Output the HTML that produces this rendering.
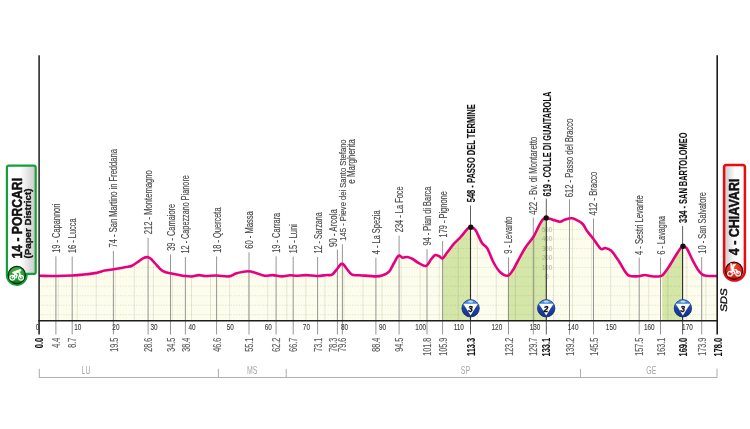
<!DOCTYPE html>
<html lang="it">
<head>
<meta charset="utf-8">
<title>Porcari - Chiavari</title>
<style>
html,body{margin:0;padding:0;background:#ffffff;}
body{width:750px;height:429px;overflow:hidden;}
svg{display:block;}
</style>
</head>
<body>
<svg width="750" height="429" viewBox="0 0 750 429" font-family='"Liberation Sans", "DejaVu Sans", sans-serif'>
<defs>
<linearGradient id="gStart" x1="0" y1="0" x2="1" y2="0"><stop offset="0" stop-color="#ffffff"/><stop offset="0.45" stop-color="#ffffff"/><stop offset="1" stop-color="#c9c9c9"/></linearGradient>
<linearGradient id="gEnd" x1="0" y1="0" x2="1" y2="0"><stop offset="0" stop-color="#c9c9c9"/><stop offset="0.55" stop-color="#ffffff"/><stop offset="1" stop-color="#ffffff"/></linearGradient>
<radialGradient id="gGreen" cx="0.5" cy="0.3" r="0.75"><stop offset="0" stop-color="#4db848"/><stop offset="0.6" stop-color="#1f9a2e"/><stop offset="1" stop-color="#0b6e1c"/></radialGradient>
<radialGradient id="gRed" cx="0.5" cy="0.3" r="0.75"><stop offset="0" stop-color="#f04a23"/><stop offset="0.6" stop-color="#e2231a"/><stop offset="1" stop-color="#b50f10"/></radialGradient>
<linearGradient id="gBlue" x1="0" y1="0" x2="0" y2="1"><stop offset="0" stop-color="#5aa3e6"/><stop offset="0.28" stop-color="#3577cf"/><stop offset="0.45" stop-color="#1c46a6"/><stop offset="1" stop-color="#142f8c"/></linearGradient>
<clipPath id="fillClip"><path d="M39.10,275.70 C44.73,275.80 50.45,276.03 56.00,276.00 C61.55,275.97 67.85,275.73 72.40,275.50 C76.95,275.27 79.25,275.03 83.30,274.60 C87.35,274.17 93.13,273.57 96.70,272.90 C100.27,272.23 101.88,271.20 104.70,270.60 C107.52,270.00 111.05,269.70 113.60,269.30 C116.15,268.90 117.93,268.58 120.00,268.20 C122.07,267.82 124.00,267.42 126.00,267.00 C128.00,266.58 129.88,266.65 132.00,265.70 C134.12,264.75 136.87,262.53 138.70,261.30 C140.53,260.07 141.57,259.00 143.00,258.30 C144.43,257.60 146.05,257.07 147.30,257.10 C148.55,257.13 149.50,257.80 150.50,258.50 C151.50,259.20 152.22,260.13 153.30,261.30 C154.38,262.47 155.67,264.05 157.00,265.50 C158.33,266.95 159.97,268.92 161.30,270.00 C162.63,271.08 163.48,271.45 165.00,272.00 C166.52,272.55 168.23,272.83 170.40,273.30 C172.57,273.77 175.52,274.35 178.00,274.80 C180.48,275.25 182.97,275.73 185.30,276.00 C187.63,276.27 189.77,276.55 192.00,276.40 C194.23,276.25 196.48,275.17 198.70,275.10 C200.92,275.03 202.30,275.93 205.30,276.00 C208.30,276.07 212.80,275.43 216.70,275.50 C220.60,275.57 225.37,276.77 228.70,276.40 C232.03,276.03 233.48,274.15 236.70,273.30 C239.92,272.45 244.67,271.30 248.00,271.30 C251.33,271.30 253.92,272.57 256.70,273.30 C259.48,274.03 262.03,275.40 264.70,275.70 C267.37,276.00 269.82,274.98 272.70,275.10 C275.58,275.22 279.12,276.37 282.00,276.40 C284.88,276.43 287.55,275.42 290.00,275.30 C292.45,275.18 294.03,275.73 296.70,275.70 C299.37,275.67 302.57,275.05 306.00,275.10 C309.43,275.15 313.85,276.02 317.30,276.00 C320.75,275.98 324.25,275.22 326.70,275.00 C329.15,274.78 330.23,275.75 332.00,274.70 C333.77,273.65 335.97,270.32 337.30,268.70 C338.63,267.08 339.22,265.80 340.00,265.00 C340.78,264.20 341.33,263.90 342.00,263.90 C342.67,263.90 343.22,264.20 344.00,265.00 C344.78,265.80 345.37,267.08 346.70,268.70 C348.03,270.32 349.78,273.60 352.00,274.70 C354.22,275.80 356.00,275.02 360.00,275.30 C364.00,275.58 372.22,276.40 376.00,276.40 C379.78,276.40 380.48,276.15 382.70,275.30 C384.92,274.45 387.42,273.35 389.30,271.30 C391.18,269.25 392.43,265.60 394.00,263.00 C395.57,260.40 397.25,256.58 398.70,255.70 C400.15,254.82 401.27,257.48 402.70,257.70 C404.13,257.92 405.63,256.78 407.30,257.00 C408.97,257.22 410.80,258.00 412.70,259.00 C414.60,260.00 416.48,261.85 418.70,263.00 C420.92,264.15 423.90,266.57 426.00,265.90 C428.10,265.23 429.75,260.82 431.30,259.00 C432.85,257.18 433.97,255.45 435.30,255.00 C436.63,254.55 438.07,255.75 439.30,256.30 C440.53,256.85 441.37,258.97 442.70,258.30 C444.03,257.63 445.42,254.73 447.30,252.30 C449.18,249.87 451.77,246.25 454.00,243.70 C456.23,241.15 458.48,239.45 460.70,237.00 C462.92,234.55 465.68,230.62 467.30,229.00 C468.92,227.38 469.37,227.87 470.40,227.30 C472.03,228.10 473.37,227.08 475.30,229.70 C477.23,232.32 480.00,239.90 482.00,243.00 C484.00,246.10 485.42,245.13 487.30,248.30 C489.18,251.47 491.18,258.05 493.30,262.00 C495.42,265.95 497.60,269.72 500.00,272.00 C502.40,274.28 505.53,276.03 507.70,275.70 C509.87,275.37 511.40,272.28 513.00,270.00 C514.60,267.72 515.25,265.72 517.30,262.00 C519.35,258.28 522.63,251.87 525.30,247.70 C527.97,243.53 531.07,240.57 533.30,237.00 C535.53,233.43 537.13,229.18 538.70,226.30 C540.27,223.42 541.48,221.10 542.70,219.70 C543.92,218.30 544.90,218.50 546.00,217.90 C547.57,218.27 549.25,218.60 550.70,219.00 C552.15,219.40 553.15,219.85 554.70,220.30 C556.25,220.75 558.23,221.85 560.00,221.70 C561.77,221.55 563.30,219.97 565.30,219.40 C567.30,218.83 570.00,218.15 572.00,218.30 C574.00,218.45 575.52,219.35 577.30,220.30 C579.08,221.25 581.03,222.17 582.70,224.00 C584.37,225.83 585.53,228.85 587.30,231.30 C589.07,233.75 591.07,235.80 593.30,238.70 C595.53,241.60 598.70,247.15 600.70,248.70 C602.70,250.25 603.53,247.67 605.30,248.00 C607.07,248.33 609.40,249.03 611.30,250.70 C613.20,252.37 615.37,256.17 616.70,258.00 C618.03,259.83 617.97,259.53 619.30,261.70 C620.63,263.87 623.03,268.67 624.70,271.00 C626.37,273.33 626.97,274.82 629.30,275.70 C631.63,276.58 636.13,276.42 638.70,276.30 C641.27,276.18 642.60,275.00 644.70,275.00 C646.80,275.00 648.75,276.08 651.30,276.30 C653.85,276.52 658.00,276.63 660.00,276.30 C662.00,275.97 661.85,275.85 663.30,274.30 C664.75,272.75 666.70,270.00 668.70,267.00 C670.70,264.00 673.42,259.30 675.30,256.30 C677.18,253.30 678.77,250.67 680.00,249.00 C681.23,247.33 681.80,247.20 682.70,246.30 C684.03,246.97 685.03,245.97 686.70,248.30 C688.37,250.63 690.82,256.73 692.70,260.30 C694.58,263.87 696.45,267.37 698.00,269.70 C699.55,272.03 700.67,273.30 702.00,274.30 C703.33,275.30 703.45,275.42 706.00,275.70 C708.55,275.98 713.53,275.90 717.30,276.00 L717.3,320.8 L39.1,320.8 Z"/></clipPath>
</defs>
<rect width="750" height="429" fill="#ffffff"/>
<path d="M39.10,275.70 C44.73,275.80 50.45,276.03 56.00,276.00 C61.55,275.97 67.85,275.73 72.40,275.50 C76.95,275.27 79.25,275.03 83.30,274.60 C87.35,274.17 93.13,273.57 96.70,272.90 C100.27,272.23 101.88,271.20 104.70,270.60 C107.52,270.00 111.05,269.70 113.60,269.30 C116.15,268.90 117.93,268.58 120.00,268.20 C122.07,267.82 124.00,267.42 126.00,267.00 C128.00,266.58 129.88,266.65 132.00,265.70 C134.12,264.75 136.87,262.53 138.70,261.30 C140.53,260.07 141.57,259.00 143.00,258.30 C144.43,257.60 146.05,257.07 147.30,257.10 C148.55,257.13 149.50,257.80 150.50,258.50 C151.50,259.20 152.22,260.13 153.30,261.30 C154.38,262.47 155.67,264.05 157.00,265.50 C158.33,266.95 159.97,268.92 161.30,270.00 C162.63,271.08 163.48,271.45 165.00,272.00 C166.52,272.55 168.23,272.83 170.40,273.30 C172.57,273.77 175.52,274.35 178.00,274.80 C180.48,275.25 182.97,275.73 185.30,276.00 C187.63,276.27 189.77,276.55 192.00,276.40 C194.23,276.25 196.48,275.17 198.70,275.10 C200.92,275.03 202.30,275.93 205.30,276.00 C208.30,276.07 212.80,275.43 216.70,275.50 C220.60,275.57 225.37,276.77 228.70,276.40 C232.03,276.03 233.48,274.15 236.70,273.30 C239.92,272.45 244.67,271.30 248.00,271.30 C251.33,271.30 253.92,272.57 256.70,273.30 C259.48,274.03 262.03,275.40 264.70,275.70 C267.37,276.00 269.82,274.98 272.70,275.10 C275.58,275.22 279.12,276.37 282.00,276.40 C284.88,276.43 287.55,275.42 290.00,275.30 C292.45,275.18 294.03,275.73 296.70,275.70 C299.37,275.67 302.57,275.05 306.00,275.10 C309.43,275.15 313.85,276.02 317.30,276.00 C320.75,275.98 324.25,275.22 326.70,275.00 C329.15,274.78 330.23,275.75 332.00,274.70 C333.77,273.65 335.97,270.32 337.30,268.70 C338.63,267.08 339.22,265.80 340.00,265.00 C340.78,264.20 341.33,263.90 342.00,263.90 C342.67,263.90 343.22,264.20 344.00,265.00 C344.78,265.80 345.37,267.08 346.70,268.70 C348.03,270.32 349.78,273.60 352.00,274.70 C354.22,275.80 356.00,275.02 360.00,275.30 C364.00,275.58 372.22,276.40 376.00,276.40 C379.78,276.40 380.48,276.15 382.70,275.30 C384.92,274.45 387.42,273.35 389.30,271.30 C391.18,269.25 392.43,265.60 394.00,263.00 C395.57,260.40 397.25,256.58 398.70,255.70 C400.15,254.82 401.27,257.48 402.70,257.70 C404.13,257.92 405.63,256.78 407.30,257.00 C408.97,257.22 410.80,258.00 412.70,259.00 C414.60,260.00 416.48,261.85 418.70,263.00 C420.92,264.15 423.90,266.57 426.00,265.90 C428.10,265.23 429.75,260.82 431.30,259.00 C432.85,257.18 433.97,255.45 435.30,255.00 C436.63,254.55 438.07,255.75 439.30,256.30 C440.53,256.85 441.37,258.97 442.70,258.30 C444.03,257.63 445.42,254.73 447.30,252.30 C449.18,249.87 451.77,246.25 454.00,243.70 C456.23,241.15 458.48,239.45 460.70,237.00 C462.92,234.55 465.68,230.62 467.30,229.00 C468.92,227.38 469.37,227.87 470.40,227.30 C472.03,228.10 473.37,227.08 475.30,229.70 C477.23,232.32 480.00,239.90 482.00,243.00 C484.00,246.10 485.42,245.13 487.30,248.30 C489.18,251.47 491.18,258.05 493.30,262.00 C495.42,265.95 497.60,269.72 500.00,272.00 C502.40,274.28 505.53,276.03 507.70,275.70 C509.87,275.37 511.40,272.28 513.00,270.00 C514.60,267.72 515.25,265.72 517.30,262.00 C519.35,258.28 522.63,251.87 525.30,247.70 C527.97,243.53 531.07,240.57 533.30,237.00 C535.53,233.43 537.13,229.18 538.70,226.30 C540.27,223.42 541.48,221.10 542.70,219.70 C543.92,218.30 544.90,218.50 546.00,217.90 C547.57,218.27 549.25,218.60 550.70,219.00 C552.15,219.40 553.15,219.85 554.70,220.30 C556.25,220.75 558.23,221.85 560.00,221.70 C561.77,221.55 563.30,219.97 565.30,219.40 C567.30,218.83 570.00,218.15 572.00,218.30 C574.00,218.45 575.52,219.35 577.30,220.30 C579.08,221.25 581.03,222.17 582.70,224.00 C584.37,225.83 585.53,228.85 587.30,231.30 C589.07,233.75 591.07,235.80 593.30,238.70 C595.53,241.60 598.70,247.15 600.70,248.70 C602.70,250.25 603.53,247.67 605.30,248.00 C607.07,248.33 609.40,249.03 611.30,250.70 C613.20,252.37 615.37,256.17 616.70,258.00 C618.03,259.83 617.97,259.53 619.30,261.70 C620.63,263.87 623.03,268.67 624.70,271.00 C626.37,273.33 626.97,274.82 629.30,275.70 C631.63,276.58 636.13,276.42 638.70,276.30 C641.27,276.18 642.60,275.00 644.70,275.00 C646.80,275.00 648.75,276.08 651.30,276.30 C653.85,276.52 658.00,276.63 660.00,276.30 C662.00,275.97 661.85,275.85 663.30,274.30 C664.75,272.75 666.70,270.00 668.70,267.00 C670.70,264.00 673.42,259.30 675.30,256.30 C677.18,253.30 678.77,250.67 680.00,249.00 C681.23,247.33 681.80,247.20 682.70,246.30 C684.03,246.97 685.03,245.97 686.70,248.30 C688.37,250.63 690.82,256.73 692.70,260.30 C694.58,263.87 696.45,267.37 698.00,269.70 C699.55,272.03 700.67,273.30 702.00,274.30 C703.33,275.30 703.45,275.42 706.00,275.70 C708.55,275.98 713.53,275.90 717.30,276.00 L717.3,320.8 L39.1,320.8 Z" fill="#fcfdec"/>
<g clip-path="url(#fillClip)">
<rect x="442.6" y="200" width="27.8" height="125" fill="#d5e7a8"/>
<rect x="507.7" y="200" width="38.3" height="125" fill="#d5e7a8"/>
<rect x="662.2" y="200" width="20.5" height="125" fill="#d5e7a8"/>
<line x1="39" x2="718" y1="314.6" y2="314.6" stroke="#5a5a3c" stroke-opacity="0.2" stroke-width="0.8" stroke-dasharray="1.2,1.5"/>
<line x1="39" x2="718" y1="305.2" y2="305.2" stroke="#5a5a3c" stroke-opacity="0.2" stroke-width="0.8" stroke-dasharray="1.2,1.5"/>
<line x1="39" x2="718" y1="295.7" y2="295.7" stroke="#5a5a3c" stroke-opacity="0.2" stroke-width="0.8" stroke-dasharray="1.2,1.5"/>
<line x1="39" x2="718" y1="286.2" y2="286.2" stroke="#5a5a3c" stroke-opacity="0.2" stroke-width="0.8" stroke-dasharray="1.2,1.5"/>
<line x1="39" x2="718" y1="276.8" y2="276.8" stroke="#5a5a3c" stroke-opacity="0.2" stroke-width="0.8" stroke-dasharray="1.2,1.5"/>
<line x1="39" x2="718" y1="267.4" y2="267.4" stroke="#5a5a3c" stroke-opacity="0.2" stroke-width="0.8" stroke-dasharray="1.2,1.5"/>
<line x1="39" x2="718" y1="257.9" y2="257.9" stroke="#5a5a3c" stroke-opacity="0.2" stroke-width="0.8" stroke-dasharray="1.2,1.5"/>
<line x1="39" x2="718" y1="248.5" y2="248.5" stroke="#5a5a3c" stroke-opacity="0.2" stroke-width="0.8" stroke-dasharray="1.2,1.5"/>
<line x1="39" x2="718" y1="239.0" y2="239.0" stroke="#5a5a3c" stroke-opacity="0.2" stroke-width="0.8" stroke-dasharray="1.2,1.5"/>
<line x1="39" x2="718" y1="229.6" y2="229.6" stroke="#5a5a3c" stroke-opacity="0.2" stroke-width="0.8" stroke-dasharray="1.2,1.5"/>
<line x1="39" x2="718" y1="220.1" y2="220.1" stroke="#5a5a3c" stroke-opacity="0.2" stroke-width="0.8" stroke-dasharray="1.2,1.5"/>
<line x1="58.2" x2="58.2" y1="200" y2="320.8" stroke="#5a5a3c" stroke-opacity="0.16" stroke-width="0.9"/>
<line x1="77.2" x2="77.2" y1="200" y2="320.8" stroke="#5a5a3c" stroke-opacity="0.16" stroke-width="0.9"/>
<line x1="96.2" x2="96.2" y1="200" y2="320.8" stroke="#5a5a3c" stroke-opacity="0.16" stroke-width="0.9"/>
<line x1="115.3" x2="115.3" y1="200" y2="320.8" stroke="#5a5a3c" stroke-opacity="0.16" stroke-width="0.9"/>
<line x1="134.3" x2="134.3" y1="200" y2="320.8" stroke="#5a5a3c" stroke-opacity="0.16" stroke-width="0.9"/>
<line x1="153.4" x2="153.4" y1="200" y2="320.8" stroke="#5a5a3c" stroke-opacity="0.16" stroke-width="0.9"/>
<line x1="172.4" x2="172.4" y1="200" y2="320.8" stroke="#5a5a3c" stroke-opacity="0.16" stroke-width="0.9"/>
<line x1="191.5" x2="191.5" y1="200" y2="320.8" stroke="#5a5a3c" stroke-opacity="0.16" stroke-width="0.9"/>
<line x1="210.5" x2="210.5" y1="200" y2="320.8" stroke="#5a5a3c" stroke-opacity="0.16" stroke-width="0.9"/>
<line x1="229.6" x2="229.6" y1="200" y2="320.8" stroke="#5a5a3c" stroke-opacity="0.16" stroke-width="0.9"/>
<line x1="248.7" x2="248.7" y1="200" y2="320.8" stroke="#5a5a3c" stroke-opacity="0.16" stroke-width="0.9"/>
<line x1="267.7" x2="267.7" y1="200" y2="320.8" stroke="#5a5a3c" stroke-opacity="0.16" stroke-width="0.9"/>
<line x1="286.8" x2="286.8" y1="200" y2="320.8" stroke="#5a5a3c" stroke-opacity="0.16" stroke-width="0.9"/>
<line x1="305.8" x2="305.8" y1="200" y2="320.8" stroke="#5a5a3c" stroke-opacity="0.16" stroke-width="0.9"/>
<line x1="324.9" x2="324.9" y1="200" y2="320.8" stroke="#5a5a3c" stroke-opacity="0.16" stroke-width="0.9"/>
<line x1="343.9" x2="343.9" y1="200" y2="320.8" stroke="#5a5a3c" stroke-opacity="0.16" stroke-width="0.9"/>
<line x1="363.0" x2="363.0" y1="200" y2="320.8" stroke="#5a5a3c" stroke-opacity="0.16" stroke-width="0.9"/>
<line x1="382.0" x2="382.0" y1="200" y2="320.8" stroke="#5a5a3c" stroke-opacity="0.16" stroke-width="0.9"/>
<line x1="401.1" x2="401.1" y1="200" y2="320.8" stroke="#5a5a3c" stroke-opacity="0.16" stroke-width="0.9"/>
<line x1="420.1" x2="420.1" y1="200" y2="320.8" stroke="#5a5a3c" stroke-opacity="0.16" stroke-width="0.9"/>
<line x1="439.2" x2="439.2" y1="200" y2="320.8" stroke="#5a5a3c" stroke-opacity="0.16" stroke-width="0.9"/>
<line x1="458.2" x2="458.2" y1="200" y2="320.8" stroke="#5a5a3c" stroke-opacity="0.16" stroke-width="0.9"/>
<line x1="477.3" x2="477.3" y1="200" y2="320.8" stroke="#5a5a3c" stroke-opacity="0.16" stroke-width="0.9"/>
<line x1="496.3" x2="496.3" y1="200" y2="320.8" stroke="#5a5a3c" stroke-opacity="0.16" stroke-width="0.9"/>
<line x1="515.4" x2="515.4" y1="200" y2="320.8" stroke="#5a5a3c" stroke-opacity="0.16" stroke-width="0.9"/>
<line x1="534.4" x2="534.4" y1="200" y2="320.8" stroke="#5a5a3c" stroke-opacity="0.16" stroke-width="0.9"/>
<line x1="553.5" x2="553.5" y1="200" y2="320.8" stroke="#5a5a3c" stroke-opacity="0.16" stroke-width="0.9"/>
<line x1="572.5" x2="572.5" y1="200" y2="320.8" stroke="#5a5a3c" stroke-opacity="0.16" stroke-width="0.9"/>
<line x1="591.6" x2="591.6" y1="200" y2="320.8" stroke="#5a5a3c" stroke-opacity="0.16" stroke-width="0.9"/>
<line x1="610.6" x2="610.6" y1="200" y2="320.8" stroke="#5a5a3c" stroke-opacity="0.16" stroke-width="0.9"/>
<line x1="629.6" x2="629.6" y1="200" y2="320.8" stroke="#5a5a3c" stroke-opacity="0.16" stroke-width="0.9"/>
<line x1="648.7" x2="648.7" y1="200" y2="320.8" stroke="#5a5a3c" stroke-opacity="0.16" stroke-width="0.9"/>
<line x1="667.8" x2="667.8" y1="200" y2="320.8" stroke="#5a5a3c" stroke-opacity="0.16" stroke-width="0.9"/>
<line x1="686.8" x2="686.8" y1="200" y2="320.8" stroke="#5a5a3c" stroke-opacity="0.16" stroke-width="0.9"/>
<line x1="705.9" x2="705.9" y1="200" y2="320.8" stroke="#5a5a3c" stroke-opacity="0.16" stroke-width="0.9"/>
</g>
<line x1="55.9" x2="55.9" y1="256.3" y2="334.5" stroke="#8a8a8a" stroke-width="0.9"/>
<line x1="72.2" x2="72.2" y1="256.6" y2="334.5" stroke="#8a8a8a" stroke-width="0.9"/>
<line x1="113.4" x2="113.4" y1="251.0" y2="334.5" stroke="#8a8a8a" stroke-width="0.9"/>
<line x1="148.1" x2="148.1" y1="237.7" y2="334.5" stroke="#8a8a8a" stroke-width="0.9"/>
<line x1="170.5" x2="170.5" y1="254.4" y2="334.5" stroke="#8a8a8a" stroke-width="0.9"/>
<line x1="185.4" x2="185.4" y1="256.9" y2="334.5" stroke="#8a8a8a" stroke-width="0.9"/>
<line x1="216.6" x2="216.6" y1="256.4" y2="334.5" stroke="#8a8a8a" stroke-width="0.9"/>
<line x1="249.0" x2="249.0" y1="252.3" y2="334.5" stroke="#8a8a8a" stroke-width="0.9"/>
<line x1="276.1" x2="276.1" y1="256.3" y2="334.5" stroke="#8a8a8a" stroke-width="0.9"/>
<line x1="293.2" x2="293.2" y1="256.7" y2="334.5" stroke="#8a8a8a" stroke-width="0.9"/>
<line x1="317.6" x2="317.6" y1="256.9" y2="334.5" stroke="#8a8a8a" stroke-width="0.9"/>
<line x1="337.4" x2="337.4" y1="249.5" y2="334.5" stroke="#8a8a8a" stroke-width="0.9"/>
<line x1="342.4" x2="342.4" y1="244.2" y2="334.5" stroke="#8a8a8a" stroke-width="0.9"/>
<line x1="375.9" x2="375.9" y1="257.7" y2="334.5" stroke="#8a8a8a" stroke-width="0.9"/>
<line x1="399.1" x2="399.1" y1="235.6" y2="334.5" stroke="#8a8a8a" stroke-width="0.9"/>
<line x1="427.0" x2="427.0" y1="249.1" y2="334.5" stroke="#8a8a8a" stroke-width="0.9"/>
<line x1="442.6" x2="442.6" y1="240.9" y2="334.5" stroke="#8a8a8a" stroke-width="0.9"/>
<line x1="508.5" x2="508.5" y1="257.2" y2="334.5" stroke="#8a8a8a" stroke-width="0.9"/>
<line x1="533.3" x2="533.3" y1="217.6" y2="334.5" stroke="#8a8a8a" stroke-width="0.9"/>
<line x1="569.5" x2="569.5" y1="199.3" y2="334.5" stroke="#8a8a8a" stroke-width="0.9"/>
<line x1="593.5" x2="593.5" y1="218.5" y2="334.5" stroke="#8a8a8a" stroke-width="0.9"/>
<line x1="639.2" x2="639.2" y1="257.7" y2="334.5" stroke="#8a8a8a" stroke-width="0.9"/>
<line x1="660.5" x2="660.5" y1="257.5" y2="334.5" stroke="#8a8a8a" stroke-width="0.9"/>
<line x1="701.7" x2="701.7" y1="257.1" y2="334.5" stroke="#8a8a8a" stroke-width="0.9"/>
<text font-size="6.4" fill="#8f8f88" fill-opacity="0.7" text-anchor="middle" transform="translate(547.0 231.9) scale(0.95 1)">500</text>
<text font-size="6.4" fill="#8f8f88" fill-opacity="0.7" text-anchor="middle" transform="translate(547.0 241.3) scale(0.95 1)">400</text>
<text font-size="6.4" fill="#8f8f88" fill-opacity="0.7" text-anchor="middle" transform="translate(547.0 250.8) scale(0.95 1)">300</text>
<text font-size="6.4" fill="#8f8f88" fill-opacity="0.7" text-anchor="middle" transform="translate(547.0 260.2) scale(0.95 1)">200</text>
<text font-size="6.4" fill="#8f8f88" fill-opacity="0.7" text-anchor="middle" transform="translate(547.0 269.7) scale(0.95 1)">100</text>
<text font-size="6.4" fill="#8f8f88" fill-opacity="0.7" text-anchor="middle" transform="translate(547.0 279.1) scale(0.95 1)">0</text>
<line x1="470.5" x2="470.5" y1="205.5" y2="227.3" stroke="#1d1d1b" stroke-width="0.7"/>
<line x1="470.5" x2="470.5" y1="227.3" y2="320.8" stroke="#2b2b2a" stroke-width="1.1"/>
<line x1="470.5" x2="470.5" y1="320.8" y2="334.5" stroke="#4a4a4a" stroke-width="0.9"/>
<line x1="546.3" x2="546.3" y1="198.7" y2="217.9" stroke="#1d1d1b" stroke-width="0.7"/>
<line x1="546.3" x2="546.3" y1="217.9" y2="320.8" stroke="#2b2b2a" stroke-width="1.1"/>
<line x1="546.3" x2="546.3" y1="320.8" y2="334.5" stroke="#4a4a4a" stroke-width="0.9"/>
<line x1="682.6" x2="682.6" y1="226.0" y2="246.3" stroke="#1d1d1b" stroke-width="0.7"/>
<line x1="682.6" x2="682.6" y1="246.3" y2="320.8" stroke="#2b2b2a" stroke-width="1.1"/>
<line x1="682.6" x2="682.6" y1="320.8" y2="334.5" stroke="#4a4a4a" stroke-width="0.9"/>
<path d="M39.10,275.70 C44.73,275.80 50.45,276.03 56.00,276.00 C61.55,275.97 67.85,275.73 72.40,275.50 C76.95,275.27 79.25,275.03 83.30,274.60 C87.35,274.17 93.13,273.57 96.70,272.90 C100.27,272.23 101.88,271.20 104.70,270.60 C107.52,270.00 111.05,269.70 113.60,269.30 C116.15,268.90 117.93,268.58 120.00,268.20 C122.07,267.82 124.00,267.42 126.00,267.00 C128.00,266.58 129.88,266.65 132.00,265.70 C134.12,264.75 136.87,262.53 138.70,261.30 C140.53,260.07 141.57,259.00 143.00,258.30 C144.43,257.60 146.05,257.07 147.30,257.10 C148.55,257.13 149.50,257.80 150.50,258.50 C151.50,259.20 152.22,260.13 153.30,261.30 C154.38,262.47 155.67,264.05 157.00,265.50 C158.33,266.95 159.97,268.92 161.30,270.00 C162.63,271.08 163.48,271.45 165.00,272.00 C166.52,272.55 168.23,272.83 170.40,273.30 C172.57,273.77 175.52,274.35 178.00,274.80 C180.48,275.25 182.97,275.73 185.30,276.00 C187.63,276.27 189.77,276.55 192.00,276.40 C194.23,276.25 196.48,275.17 198.70,275.10 C200.92,275.03 202.30,275.93 205.30,276.00 C208.30,276.07 212.80,275.43 216.70,275.50 C220.60,275.57 225.37,276.77 228.70,276.40 C232.03,276.03 233.48,274.15 236.70,273.30 C239.92,272.45 244.67,271.30 248.00,271.30 C251.33,271.30 253.92,272.57 256.70,273.30 C259.48,274.03 262.03,275.40 264.70,275.70 C267.37,276.00 269.82,274.98 272.70,275.10 C275.58,275.22 279.12,276.37 282.00,276.40 C284.88,276.43 287.55,275.42 290.00,275.30 C292.45,275.18 294.03,275.73 296.70,275.70 C299.37,275.67 302.57,275.05 306.00,275.10 C309.43,275.15 313.85,276.02 317.30,276.00 C320.75,275.98 324.25,275.22 326.70,275.00 C329.15,274.78 330.23,275.75 332.00,274.70 C333.77,273.65 335.97,270.32 337.30,268.70 C338.63,267.08 339.22,265.80 340.00,265.00 C340.78,264.20 341.33,263.90 342.00,263.90 C342.67,263.90 343.22,264.20 344.00,265.00 C344.78,265.80 345.37,267.08 346.70,268.70 C348.03,270.32 349.78,273.60 352.00,274.70 C354.22,275.80 356.00,275.02 360.00,275.30 C364.00,275.58 372.22,276.40 376.00,276.40 C379.78,276.40 380.48,276.15 382.70,275.30 C384.92,274.45 387.42,273.35 389.30,271.30 C391.18,269.25 392.43,265.60 394.00,263.00 C395.57,260.40 397.25,256.58 398.70,255.70 C400.15,254.82 401.27,257.48 402.70,257.70 C404.13,257.92 405.63,256.78 407.30,257.00 C408.97,257.22 410.80,258.00 412.70,259.00 C414.60,260.00 416.48,261.85 418.70,263.00 C420.92,264.15 423.90,266.57 426.00,265.90 C428.10,265.23 429.75,260.82 431.30,259.00 C432.85,257.18 433.97,255.45 435.30,255.00 C436.63,254.55 438.07,255.75 439.30,256.30 C440.53,256.85 441.37,258.97 442.70,258.30 C444.03,257.63 445.42,254.73 447.30,252.30 C449.18,249.87 451.77,246.25 454.00,243.70 C456.23,241.15 458.48,239.45 460.70,237.00 C462.92,234.55 465.68,230.62 467.30,229.00 C468.92,227.38 469.37,227.87 470.40,227.30 C472.03,228.10 473.37,227.08 475.30,229.70 C477.23,232.32 480.00,239.90 482.00,243.00 C484.00,246.10 485.42,245.13 487.30,248.30 C489.18,251.47 491.18,258.05 493.30,262.00 C495.42,265.95 497.60,269.72 500.00,272.00 C502.40,274.28 505.53,276.03 507.70,275.70 C509.87,275.37 511.40,272.28 513.00,270.00 C514.60,267.72 515.25,265.72 517.30,262.00 C519.35,258.28 522.63,251.87 525.30,247.70 C527.97,243.53 531.07,240.57 533.30,237.00 C535.53,233.43 537.13,229.18 538.70,226.30 C540.27,223.42 541.48,221.10 542.70,219.70 C543.92,218.30 544.90,218.50 546.00,217.90 C547.57,218.27 549.25,218.60 550.70,219.00 C552.15,219.40 553.15,219.85 554.70,220.30 C556.25,220.75 558.23,221.85 560.00,221.70 C561.77,221.55 563.30,219.97 565.30,219.40 C567.30,218.83 570.00,218.15 572.00,218.30 C574.00,218.45 575.52,219.35 577.30,220.30 C579.08,221.25 581.03,222.17 582.70,224.00 C584.37,225.83 585.53,228.85 587.30,231.30 C589.07,233.75 591.07,235.80 593.30,238.70 C595.53,241.60 598.70,247.15 600.70,248.70 C602.70,250.25 603.53,247.67 605.30,248.00 C607.07,248.33 609.40,249.03 611.30,250.70 C613.20,252.37 615.37,256.17 616.70,258.00 C618.03,259.83 617.97,259.53 619.30,261.70 C620.63,263.87 623.03,268.67 624.70,271.00 C626.37,273.33 626.97,274.82 629.30,275.70 C631.63,276.58 636.13,276.42 638.70,276.30 C641.27,276.18 642.60,275.00 644.70,275.00 C646.80,275.00 648.75,276.08 651.30,276.30 C653.85,276.52 658.00,276.63 660.00,276.30 C662.00,275.97 661.85,275.85 663.30,274.30 C664.75,272.75 666.70,270.00 668.70,267.00 C670.70,264.00 673.42,259.30 675.30,256.30 C677.18,253.30 678.77,250.67 680.00,249.00 C681.23,247.33 681.80,247.20 682.70,246.30 C684.03,246.97 685.03,245.97 686.70,248.30 C688.37,250.63 690.82,256.73 692.70,260.30 C694.58,263.87 696.45,267.37 698.00,269.70 C699.55,272.03 700.67,273.30 702.00,274.30 C703.33,275.30 703.45,275.42 706.00,275.70 C708.55,275.98 713.53,275.90 717.30,276.00" fill="none" stroke="#e6007e" stroke-width="2.6" stroke-linejoin="round" stroke-linecap="butt"/>
<circle cx="470.8" cy="227.3" r="2.7" fill="#111111"/>
<circle cx="546.2" cy="217.9" r="2.7" fill="#111111"/>
<circle cx="683.0" cy="246.3" r="2.7" fill="#111111"/>
<line x1="39.1" x2="39.1" y1="55.3" y2="334.5" stroke="#1d1d1b" stroke-width="1.5"/>
<line x1="717.2" x2="717.2" y1="55.3" y2="334.5" stroke="#1d1d1b" stroke-width="1.6"/>
<line x1="38.4" x2="717.9" y1="320.7" y2="320.7" stroke="#1d1d1b" stroke-width="1.5"/>
<text font-size="8.2" fill="#3c3c3b" stroke="#3c3c3b" stroke-width="0.12" text-anchor="middle" transform="translate(37.5 329.7) scale(0.78 1)">0</text>
<text font-size="8.2" fill="#3c3c3b" stroke="#3c3c3b" stroke-width="0.12" text-anchor="middle" transform="translate(77.8 329.7) scale(0.78 1)">10</text>
<text font-size="8.2" fill="#3c3c3b" stroke="#3c3c3b" stroke-width="0.12" text-anchor="middle" transform="translate(115.9 329.7) scale(0.78 1)">20</text>
<text font-size="8.2" fill="#3c3c3b" stroke="#3c3c3b" stroke-width="0.12" text-anchor="middle" transform="translate(154.0 329.7) scale(0.78 1)">30</text>
<text font-size="8.2" fill="#3c3c3b" stroke="#3c3c3b" stroke-width="0.12" text-anchor="middle" transform="translate(192.1 329.7) scale(0.78 1)">40</text>
<text font-size="8.2" fill="#3c3c3b" stroke="#3c3c3b" stroke-width="0.12" text-anchor="middle" transform="translate(230.2 329.7) scale(0.78 1)">50</text>
<text font-size="8.2" fill="#3c3c3b" stroke="#3c3c3b" stroke-width="0.12" text-anchor="middle" transform="translate(268.3 329.7) scale(0.78 1)">60</text>
<text font-size="8.2" fill="#3c3c3b" stroke="#3c3c3b" stroke-width="0.12" text-anchor="middle" transform="translate(306.4 329.7) scale(0.78 1)">70</text>
<text font-size="8.2" fill="#3c3c3b" stroke="#3c3c3b" stroke-width="0.12" text-anchor="middle" transform="translate(344.5 329.7) scale(0.78 1)">80</text>
<text font-size="8.2" fill="#3c3c3b" stroke="#3c3c3b" stroke-width="0.12" text-anchor="middle" transform="translate(382.6 329.7) scale(0.78 1)">90</text>
<text font-size="8.2" fill="#3c3c3b" stroke="#3c3c3b" stroke-width="0.12" text-anchor="middle" transform="translate(420.7 329.7) scale(0.78 1)">100</text>
<text font-size="8.2" fill="#3c3c3b" stroke="#3c3c3b" stroke-width="0.12" text-anchor="middle" transform="translate(458.8 329.7) scale(0.78 1)">110</text>
<text font-size="8.2" fill="#3c3c3b" stroke="#3c3c3b" stroke-width="0.12" text-anchor="middle" transform="translate(496.9 329.7) scale(0.78 1)">120</text>
<text font-size="8.2" fill="#3c3c3b" stroke="#3c3c3b" stroke-width="0.12" text-anchor="middle" transform="translate(535.0 329.7) scale(0.78 1)">130</text>
<text font-size="8.2" fill="#3c3c3b" stroke="#3c3c3b" stroke-width="0.12" text-anchor="middle" transform="translate(573.1 329.7) scale(0.78 1)">140</text>
<text font-size="8.2" fill="#3c3c3b" stroke="#3c3c3b" stroke-width="0.12" text-anchor="middle" transform="translate(611.2 329.7) scale(0.78 1)">150</text>
<text font-size="8.2" fill="#3c3c3b" stroke="#3c3c3b" stroke-width="0.12" text-anchor="middle" transform="translate(649.3 329.7) scale(0.78 1)">160</text>
<text font-size="8.2" fill="#3c3c3b" stroke="#3c3c3b" stroke-width="0.12" text-anchor="middle" transform="translate(687.4 329.7) scale(0.78 1)">170</text>
<text font-size="10" stroke="#4a4a49" stroke-width="0.16" stroke-linejoin="round" fill="#4a4a49" text-anchor="start" transform="translate(59.86 252.78) rotate(-90) scale(0.744 1)">19 - Capannori</text>
<text font-size="10.2" stroke="#5c5c5b" stroke-width="0.2" stroke-linejoin="round" fill="#5c5c5b" text-anchor="end" transform="translate(59.96 337.80) rotate(-90) scale(0.7 1)">4.4</text>
<text font-size="10" stroke="#4a4a49" stroke-width="0.16" stroke-linejoin="round" fill="#4a4a49" text-anchor="start" transform="translate(76.25 253.06) rotate(-90) scale(0.744 1)">16 - Lucca</text>
<text font-size="10.2" stroke="#5c5c5b" stroke-width="0.2" stroke-linejoin="round" fill="#5c5c5b" text-anchor="end" transform="translate(76.35 337.80) rotate(-90) scale(0.7 1)">8.7</text>
<text font-size="10" stroke="#4a4a49" stroke-width="0.16" stroke-linejoin="round" fill="#4a4a49" text-anchor="start" transform="translate(117.40 247.50) rotate(-90) scale(0.7572 1)">74 - San Martino in Freddana</text>
<text font-size="10.2" stroke="#5c5c5b" stroke-width="0.2" stroke-linejoin="round" fill="#5c5c5b" text-anchor="end" transform="translate(117.50 337.80) rotate(-90) scale(0.7 1)">19.5</text>
<text font-size="10" stroke="#4a4a49" stroke-width="0.16" stroke-linejoin="round" fill="#4a4a49" text-anchor="start" transform="translate(152.07 234.25) rotate(-90) scale(0.7642 1)">212 - Montemagno</text>
<text font-size="10.2" stroke="#5c5c5b" stroke-width="0.2" stroke-linejoin="round" fill="#5c5c5b" text-anchor="end" transform="translate(152.17 337.80) rotate(-90) scale(0.7 1)">28.6</text>
<text font-size="10" stroke="#4a4a49" stroke-width="0.16" stroke-linejoin="round" fill="#4a4a49" text-anchor="start" transform="translate(174.54 250.86) rotate(-90) scale(0.744 1)">39 - Camaiore</text>
<text font-size="10.2" stroke="#5c5c5b" stroke-width="0.2" stroke-linejoin="round" fill="#5c5c5b" text-anchor="end" transform="translate(174.64 337.80) rotate(-90) scale(0.7 1)">34.5</text>
<text font-size="10" stroke="#4a4a49" stroke-width="0.16" stroke-linejoin="round" fill="#4a4a49" text-anchor="start" transform="translate(189.40 253.45) rotate(-90) scale(0.7265 1)">12 - Capezzano Pianore</text>
<text font-size="10.2" stroke="#5c5c5b" stroke-width="0.2" stroke-linejoin="round" fill="#5c5c5b" text-anchor="end" transform="translate(189.50 337.80) rotate(-90) scale(0.7 1)">38.4</text>
<text font-size="10" stroke="#4a4a49" stroke-width="0.16" stroke-linejoin="round" fill="#4a4a49" text-anchor="start" transform="translate(220.65 252.87) rotate(-90) scale(0.744 1)">18 - Querceta</text>
<text font-size="10.2" stroke="#5c5c5b" stroke-width="0.2" stroke-linejoin="round" fill="#5c5c5b" text-anchor="end" transform="translate(220.75 337.80) rotate(-90) scale(0.7 1)">46.6</text>
<text font-size="10" stroke="#4a4a49" stroke-width="0.16" stroke-linejoin="round" fill="#4a4a49" text-anchor="start" transform="translate(253.03 248.84) rotate(-90) scale(0.763 1)">60 - Massa</text>
<text font-size="10.2" stroke="#5c5c5b" stroke-width="0.2" stroke-linejoin="round" fill="#5c5c5b" text-anchor="end" transform="translate(253.13 337.80) rotate(-90) scale(0.7 1)">55.1</text>
<text font-size="10" stroke="#4a4a49" stroke-width="0.16" stroke-linejoin="round" fill="#4a4a49" text-anchor="start" transform="translate(280.08 252.78) rotate(-90) scale(0.744 1)">19 - Carrara</text>
<text font-size="10.2" stroke="#5c5c5b" stroke-width="0.2" stroke-linejoin="round" fill="#5c5c5b" text-anchor="end" transform="translate(280.18 337.80) rotate(-90) scale(0.7 1)">62.2</text>
<text font-size="10" stroke="#4a4a49" stroke-width="0.16" stroke-linejoin="round" fill="#4a4a49" text-anchor="start" transform="translate(297.23 253.16) rotate(-90) scale(0.744 1)">15 - Luni</text>
<text font-size="10.2" stroke="#5c5c5b" stroke-width="0.2" stroke-linejoin="round" fill="#5c5c5b" text-anchor="end" transform="translate(297.33 337.80) rotate(-90) scale(0.7 1)">66.7</text>
<text font-size="10" stroke="#4a4a49" stroke-width="0.16" stroke-linejoin="round" fill="#4a4a49" text-anchor="start" transform="translate(321.61 253.45) rotate(-90) scale(0.7221 1)">12 - Sarzana</text>
<text font-size="10.2" stroke="#5c5c5b" stroke-width="0.2" stroke-linejoin="round" fill="#5c5c5b" text-anchor="end" transform="translate(321.71 337.80) rotate(-90) scale(0.7 1)">73.1</text>
<text font-size="10" stroke="#4a4a49" stroke-width="0.16" stroke-linejoin="round" fill="#4a4a49" text-anchor="start" transform="translate(337.32 247.10) rotate(-90) scale(0.7949 1)">90 - Arcola</text>
<text font-size="10.2" stroke="#5c5c5b" stroke-width="0.2" stroke-linejoin="round" fill="#5c5c5b" text-anchor="end" transform="translate(336.92 337.80) rotate(-90) scale(0.7 1)">78.3</text>
<text font-size="10" stroke="#4a4a49" stroke-width="0.16" stroke-linejoin="round" fill="#4a4a49" text-anchor="start" transform="translate(346.38 240.68) rotate(-90) scale(0.7645 1)">145 - Pieve dei Santo Stefano</text>
<text font-size="10" stroke="#4a4a49" stroke-width="0.16" stroke-linejoin="round" fill="#4a4a49" text-anchor="end" transform="translate(354.58 139.10) rotate(-90) scale(0.7962 1)">e Margherita</text>
<text font-size="10.2" stroke="#5c5c5b" stroke-width="0.2" stroke-linejoin="round" fill="#5c5c5b" text-anchor="end" transform="translate(346.48 337.80) rotate(-90) scale(0.7 1)">79.6</text>
<text font-size="10" stroke="#4a4a49" stroke-width="0.16" stroke-linejoin="round" fill="#4a4a49" text-anchor="start" transform="translate(379.90 254.22) rotate(-90) scale(0.744 1)">4 - La Spezia</text>
<text font-size="10.2" stroke="#5c5c5b" stroke-width="0.2" stroke-linejoin="round" fill="#5c5c5b" text-anchor="end" transform="translate(380.00 337.80) rotate(-90) scale(0.7 1)">88.4</text>
<text font-size="10" stroke="#4a4a49" stroke-width="0.16" stroke-linejoin="round" fill="#4a4a49" text-anchor="start" transform="translate(403.15 232.14) rotate(-90) scale(0.744 1)">234 - La Foce</text>
<text font-size="10.2" stroke="#5c5c5b" stroke-width="0.2" stroke-linejoin="round" fill="#5c5c5b" text-anchor="end" transform="translate(403.25 337.80) rotate(-90) scale(0.7 1)">94.5</text>
<text font-size="10" stroke="#4a4a49" stroke-width="0.16" stroke-linejoin="round" fill="#4a4a49" text-anchor="start" transform="translate(430.96 245.58) rotate(-90) scale(0.744 1)">94 - Pian di Barca</text>
<text font-size="10.2" stroke="#5c5c5b" stroke-width="0.2" stroke-linejoin="round" fill="#5c5c5b" text-anchor="end" transform="translate(431.06 337.80) rotate(-90) scale(0.7 1)">101.8</text>
<text font-size="10" stroke="#4a4a49" stroke-width="0.16" stroke-linejoin="round" fill="#4a4a49" text-anchor="start" transform="translate(446.58 237.42) rotate(-90) scale(0.744 1)">179 - Pignone</text>
<text font-size="10.2" stroke="#5c5c5b" stroke-width="0.2" stroke-linejoin="round" fill="#5c5c5b" text-anchor="end" transform="translate(446.68 337.80) rotate(-90) scale(0.7 1)">105.9</text>
<text font-size="11.2" font-weight="bold" stroke="#111111" stroke-width="0.12" stroke-linejoin="round" fill="#111111" text-anchor="start" transform="translate(475.07 202.30) rotate(-90) scale(0.6733 1)">548 - PASSO DEL TERMINE</text>
<text font-size="11" font-weight="bold" stroke="#111111" stroke-width="0.1" stroke-linejoin="round" fill="#111111" text-anchor="end" transform="translate(474.97 337.80) rotate(-90) scale(0.68 1)">113.3</text>
<text font-size="10" stroke="#4a4a49" stroke-width="0.16" stroke-linejoin="round" fill="#4a4a49" text-anchor="start" transform="translate(512.49 253.74) rotate(-90) scale(0.744 1)">9 - Levanto</text>
<text font-size="10.2" stroke="#5c5c5b" stroke-width="0.2" stroke-linejoin="round" fill="#5c5c5b" text-anchor="end" transform="translate(512.59 337.80) rotate(-90) scale(0.7 1)">123.2</text>
<text font-size="10" stroke="#4a4a49" stroke-width="0.16" stroke-linejoin="round" fill="#4a4a49" text-anchor="start" transform="translate(537.26 214.80) rotate(-90) scale(0.7797 1)">422 - Bv. di Montaretto</text>
<text font-size="10.2" stroke="#5c5c5b" stroke-width="0.2" stroke-linejoin="round" fill="#5c5c5b" text-anchor="end" transform="translate(537.36 337.80) rotate(-90) scale(0.7 1)">129.7</text>
<text font-size="11.2" font-weight="bold" stroke="#111111" stroke-width="0.12" stroke-linejoin="round" fill="#111111" text-anchor="start" transform="translate(550.51 196.50) rotate(-90) scale(0.6646 1)">619 - COLLE DI GUAITAROLA</text>
<text font-size="11" font-weight="bold" stroke="#111111" stroke-width="0.1" stroke-linejoin="round" fill="#111111" text-anchor="end" transform="translate(550.41 337.80) rotate(-90) scale(0.68 1)">133.1</text>
<text font-size="10" stroke="#4a4a49" stroke-width="0.16" stroke-linejoin="round" fill="#4a4a49" text-anchor="start" transform="translate(573.45 197.30) rotate(-90) scale(0.7622 1)">612 - Passo del Bracco</text>
<text font-size="10.2" stroke="#5c5c5b" stroke-width="0.2" stroke-linejoin="round" fill="#5c5c5b" text-anchor="end" transform="translate(573.55 337.80) rotate(-90) scale(0.7 1)">139.2</text>
<text font-size="10" stroke="#4a4a49" stroke-width="0.16" stroke-linejoin="round" fill="#4a4a49" text-anchor="start" transform="translate(597.46 215.60) rotate(-90) scale(0.7743 1)">412 - Bracco</text>
<text font-size="10.2" stroke="#5c5c5b" stroke-width="0.2" stroke-linejoin="round" fill="#5c5c5b" text-anchor="end" transform="translate(597.56 337.80) rotate(-90) scale(0.7 1)">145.5</text>
<text font-size="10" stroke="#4a4a49" stroke-width="0.16" stroke-linejoin="round" fill="#4a4a49" text-anchor="start" transform="translate(643.18 255.00) rotate(-90) scale(0.763 1)">4 - Sestri Levante</text>
<text font-size="10.2" stroke="#5c5c5b" stroke-width="0.2" stroke-linejoin="round" fill="#5c5c5b" text-anchor="end" transform="translate(643.28 337.80) rotate(-90) scale(0.7 1)">157.5</text>
<text font-size="10" stroke="#4a4a49" stroke-width="0.16" stroke-linejoin="round" fill="#4a4a49" text-anchor="start" transform="translate(664.51 254.50) rotate(-90) scale(0.7289 1)">6 - Lavagna</text>
<text font-size="10.2" stroke="#5c5c5b" stroke-width="0.2" stroke-linejoin="round" fill="#5c5c5b" text-anchor="end" transform="translate(664.61 337.80) rotate(-90) scale(0.7 1)">163.1</text>
<text font-size="11.2" font-weight="bold" stroke="#111111" stroke-width="0.12" stroke-linejoin="round" fill="#111111" text-anchor="start" transform="translate(687.29 223.00) rotate(-90) scale(0.6658 1)">334 - SAN BARTOLOMEO</text>
<text font-size="11" font-weight="bold" stroke="#111111" stroke-width="0.1" stroke-linejoin="round" fill="#111111" text-anchor="end" transform="translate(687.19 337.80) rotate(-90) scale(0.68 1)">169.0</text>
<text font-size="10" stroke="#4a4a49" stroke-width="0.16" stroke-linejoin="round" fill="#4a4a49" text-anchor="start" transform="translate(705.66 253.64) rotate(-90) scale(0.744 1)">10 - San Salvatore</text>
<text font-size="10.2" stroke="#5c5c5b" stroke-width="0.2" stroke-linejoin="round" fill="#5c5c5b" text-anchor="end" transform="translate(705.76 337.80) rotate(-90) scale(0.7 1)">173.9</text>
<text font-size="11" font-weight="bold" stroke="#111111" stroke-width="0.1" stroke-linejoin="round" fill="#111111" text-anchor="end" transform="translate(43.10 337.80) rotate(-90) scale(0.68 1)">0.0</text>
<text font-size="11" font-weight="bold" stroke="#111111" stroke-width="0.1" stroke-linejoin="round" fill="#111111" text-anchor="end" transform="translate(721.78 337.80) rotate(-90) scale(0.68 1)">178.0</text>
<g transform="translate(470.6 308.3)">
<circle r="8.7" fill="url(#gBlue)" stroke="#14287a" stroke-width="0.8"/>
<ellipse cx="0" cy="-6.6" rx="2.6" ry="1.1" fill="#d6ebff" opacity="0.8"/>
<path d="M-7.3,-4.5 L7.3,-4.5 L0,7.3 Z" fill="#ffffff"/>
<text font-size="9.8" font-weight="bold" font-style="italic" fill="#111111" stroke="#111111" stroke-width="0.3" text-anchor="middle" transform="translate(-0.2 4.0) scale(0.88 1)">3</text>
</g>
<g transform="translate(546.2 308.3)">
<circle r="8.7" fill="url(#gBlue)" stroke="#14287a" stroke-width="0.8"/>
<ellipse cx="0" cy="-6.6" rx="2.6" ry="1.1" fill="#d6ebff" opacity="0.8"/>
<path d="M-7.3,-4.5 L7.3,-4.5 L0,7.3 Z" fill="#ffffff"/>
<text font-size="9.8" font-weight="bold" font-style="italic" fill="#111111" stroke="#111111" stroke-width="0.3" text-anchor="middle" transform="translate(-0.2 4.0) scale(0.88 1)">2</text>
</g>
<g transform="translate(682.9 308.3)">
<circle r="8.7" fill="url(#gBlue)" stroke="#14287a" stroke-width="0.8"/>
<ellipse cx="0" cy="-6.6" rx="2.6" ry="1.1" fill="#d6ebff" opacity="0.8"/>
<path d="M-7.3,-4.5 L7.3,-4.5 L0,7.3 Z" fill="#ffffff"/>
<text font-size="9.8" font-weight="bold" font-style="italic" fill="#111111" stroke="#111111" stroke-width="0.3" text-anchor="middle" transform="translate(-0.2 4.0) scale(0.88 1)">3</text>
</g>
<path d="M39.3,368.8 V377.4 H717 V368.8 M218.4,368.8 V377.4 M286.2,368.8 V377.4 M580.5,368.8 V377.4" fill="none" stroke="#b0b0b0" stroke-width="1.05"/>
<text font-size="10" fill="#a8a8a8" text-anchor="middle" transform="translate(86.0 374) scale(0.7 1)">LU</text>
<text font-size="10" fill="#a8a8a8" text-anchor="middle" transform="translate(252.2 374) scale(0.7 1)">MS</text>
<text font-size="10" fill="#a8a8a8" text-anchor="middle" transform="translate(465.4 374) scale(0.7 1)">SP</text>
<text font-size="10" fill="#a8a8a8" text-anchor="middle" transform="translate(651.3 374) scale(0.7 1)">GE</text>
<g>
<path d="M8.9,165.6 H33.7 Q35.7,165.6 35.7,167.6 V271.9 Q35.7,273.9 33.7,273.9 H26.64 A9.9,9.9 0 1 1 6.9,275.0 V167.6 Q6.9,165.6 8.9,165.6 Z" fill="url(#gStart)" stroke="#14a038" stroke-width="2.2" stroke-linejoin="round"/>
<circle cx="16.8" cy="275.0" r="9.0" fill="#14a038"/>
<circle cx="16.8" cy="275.0" r="8.6" fill="url(#gGreen)" stroke="#0a2a10" stroke-width="1.2"/>
<g transform="translate(16.6 275.3)" fill="none" stroke="#ffffff" stroke-linecap="round" stroke-linejoin="round"><circle cx="-4.3" cy="2.5" r="2.4" stroke-width="1.15"/><circle cx="4.4" cy="2.5" r="2.4" stroke-width="1.15"/><path d="M-3.4,-2.6 L1.6,-4.4 L3.4,-1.4 M-2.6,-2.6 L0.4,-0.2 L-0.6,2.4 M-4.3,2.5 L-1.2,-1.0 M4.4,2.5 L3.0,-1.2" stroke-width="1.5"/><path d="M-3.6,-3.0 L1.4,-5.0 L2.6,-3.6 L-1.6,-1.6 Z" fill="#ffffff" stroke-width="0.8"/><circle cx="3.2" cy="-5.0" r="1.35" fill="#ffffff" stroke="none"/></g>
<text font-size="14.6" font-weight="bold" stroke="#111111" stroke-width="0.5" stroke-linejoin="round" fill="#111111" text-anchor="start" transform="translate(22.00 258.50) rotate(-90) scale(0.8349 1)">14 - PORCARI</text>
<text font-size="9.8" font-weight="bold" stroke="#111111" stroke-width="0.35" stroke-linejoin="round" fill="#111111" text-anchor="start" transform="translate(30.80 258.50) rotate(-90) scale(0.9964 1)">(Paper District)</text>
</g>
<g>
<path d="M726.4,164.9 H742.6 Q744.9,164.9 744.9,167.2 V270.2 A10.4,10.4 0 0 1 724.1,270.2 V167.2 Q724.1,164.9 726.4,164.9 Z" fill="url(#gEnd)" stroke="#ea0a10" stroke-width="2.5" stroke-linejoin="round"/>
<circle cx="734.1" cy="270.8" r="8.6" fill="url(#gRed)" stroke="#2a0808" stroke-width="1.2"/>
<g transform="translate(734.0 270.8)" fill="none" stroke="#ffffff" stroke-linecap="round" stroke-linejoin="round"><circle cx="-4.0" cy="2.9" r="2.3" stroke-width="1.15"/><circle cx="4.1" cy="2.9" r="2.3" stroke-width="1.15"/><path d="M-2.0,-3.4 L-1.2,0.0 L0.8,1.2 L0.0,3.0 M-1.2,0.0 L-3.0,1.4 M-2.4,-3.8 L-3.0,-7.0 M-1.4,-3.6 L1.2,-6.4 M4.1,2.9 L2.6,-0.8 L1.0,-1.0" stroke-width="1.4"/><path d="M-3.0,-4.2 L-0.4,-4.0 L0.0,0.4 L-2.4,0.6 Z" fill="#ffffff" stroke-width="0.6"/><circle cx="-0.4" cy="-5.6" r="1.3" fill="#ffffff" stroke="none"/></g>
<text font-size="14.2" font-weight="bold" stroke="#111111" stroke-width="0.5" stroke-linejoin="round" fill="#111111" text-anchor="start" transform="translate(739.20 255.30) rotate(-90) scale(0.8823 1)">4 - CHIAVARI</text>
</g>
<text font-size="9.5" fill="#111111" stroke="#111111" stroke-width="0.35" transform="translate(727.4 312.0) rotate(-90) skewX(-7) scale(1.2 1)">SDS</text>
</svg>
</body>
</html>
